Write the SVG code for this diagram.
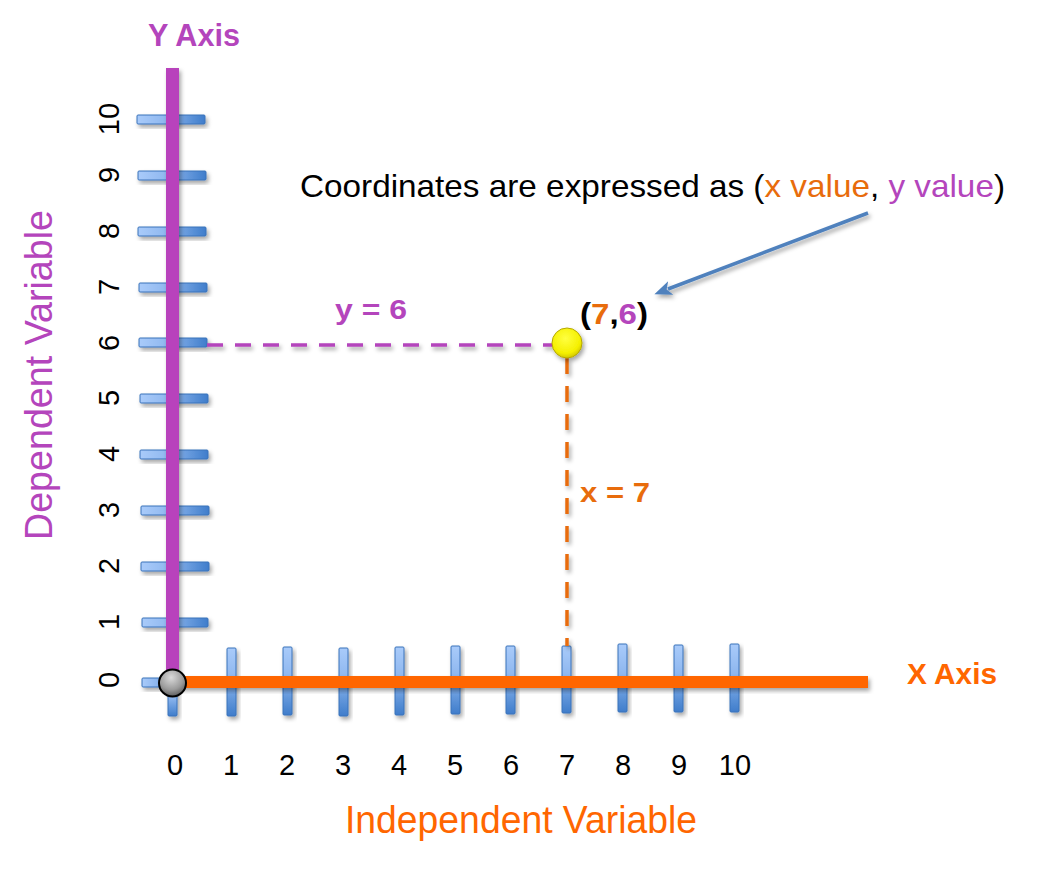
<svg xmlns="http://www.w3.org/2000/svg" width="1059" height="896" viewBox="0 0 1059 896">
<defs>
<linearGradient id="gh" x1="0" y1="0" x2="1" y2="0">
<stop offset="0" stop-color="#A9CBFA"/><stop offset="0.45" stop-color="#8DB6EE"/><stop offset="1" stop-color="#3F7DCB"/>
</linearGradient>
<linearGradient id="gv" x1="0" y1="0" x2="0" y2="1">
<stop offset="0" stop-color="#A9CBFA"/><stop offset="0.45" stop-color="#8DB6EE"/><stop offset="1" stop-color="#3F7DCB"/>
</linearGradient>
<radialGradient id="gray" cx="0.45" cy="0.3" r="0.75">
<stop offset="0" stop-color="#DADADA"/><stop offset="0.6" stop-color="#9A9A9A"/><stop offset="1" stop-color="#505050"/>
</radialGradient>
<radialGradient id="yel" cx="0.45" cy="0.35" r="0.7">
<stop offset="0" stop-color="#FFFF40"/><stop offset="0.7" stop-color="#F5F000"/><stop offset="1" stop-color="#C8BC00"/>
</radialGradient>
<filter id="sh" x="-50%" y="-50%" width="200%" height="200%">
<feDropShadow dx="2" dy="3" stdDeviation="2" flood-color="#000" flood-opacity="0.35"/>
</filter>
<filter id="shu" filterUnits="userSpaceOnUse" x="0" y="0" width="1059" height="896">
<feDropShadow dx="2" dy="3" stdDeviation="2" flood-color="#000" flood-opacity="0.35"/>
</filter>
<marker id="ah" viewBox="0 0 12 10" refX="2" refY="5" markerWidth="5" markerHeight="4.2" orient="auto-start-reverse" markerUnits="strokeWidth">
<path d="M12,5 L0,0 L3,5 L0,10 Z" fill="#4F81BD"/>
</marker>
<style>
.th{fill:url(#gh);stroke:#3A72BA;stroke-width:1;filter:url(#sh)}
.tv{fill:url(#gv);stroke:#3A72BA;stroke-width:1;filter:url(#sh)}
.num{font-family:"Liberation Sans",Arial,sans-serif;font-size:29px;fill:#000;text-anchor:middle}
.b{font-family:"Liberation Sans",Arial,sans-serif;font-weight:bold}
.pu{fill:#B445BC}
.or{fill:#E86C0C}
.orb{fill:#FF6600}
.dash{stroke-width:3.5;stroke-dasharray:16 12;filter:url(#shu)}
</style>
</defs>

<g id="y-ticks">
<rect class="th" x="137" y="115" width="68" height="9" rx="1"/>
<rect class="th" x="138" y="171" width="68" height="9" rx="1"/>
<rect class="th" x="138" y="227" width="68" height="9" rx="1"/>
<rect class="th" x="139" y="283" width="68" height="9" rx="1"/>
<rect class="th" x="139" y="338" width="68" height="9" rx="1"/>
<rect class="th" x="140" y="394" width="68" height="9" rx="1"/>
<rect class="th" x="140" y="450" width="68" height="9" rx="1"/>
<rect class="th" x="141" y="506" width="68" height="9" rx="1"/>
<rect class="th" x="141" y="562" width="68" height="9" rx="1"/>
<rect class="th" x="142" y="618" width="66" height="9" rx="1"/>
<rect class="th" x="142" y="678" width="32" height="9" rx="1"/>
</g>

<g id="x-ticks">
<rect class="tv" x="168" y="683" width="9" height="33" rx="1"/>
<rect class="tv" x="227" y="648" width="9" height="68" rx="1"/>
<rect class="tv" x="283" y="647" width="9" height="68" rx="1"/>
<rect class="tv" x="339" y="648" width="9" height="68" rx="1"/>
<rect class="tv" x="395" y="647" width="9" height="68" rx="1"/>
<rect class="tv" x="451" y="646" width="9" height="68" rx="1"/>
<rect class="tv" x="506" y="646" width="9" height="68" rx="1"/>
<rect class="tv" x="562" y="646" width="9" height="67" rx="1"/>
<rect class="tv" x="618" y="644" width="9" height="68" rx="1"/>
<rect class="tv" x="674" y="645" width="9" height="67" rx="1"/>
<rect class="tv" x="730" y="644" width="9" height="68" rx="1"/>
</g>

<g id="axes">
<rect id="y-axis" x="166" y="68" width="13" height="616" fill="#B843BC" filter="url(#sh)"/>
<rect id="x-axis" x="173" y="676" width="695" height="12" fill="#FF6600" filter="url(#sh)"/>
</g>

<g id="connectors">
<line class="dash" x1="207" y1="345" x2="552" y2="345" stroke="#B445BC"/>
<line class="dash" x1="567" y1="358" x2="567" y2="646" stroke="#E86C0C"/>
<line x1="868" y1="213" x2="668" y2="289" stroke="#4F81BD" stroke-width="3.5" marker-end="url(#ah)" filter="url(#shu)"/>
</g>

<g id="origin">
<circle cx="172.5" cy="683" r="13.5" fill="url(#gray)" stroke="#000" stroke-width="2"/>
</g>

<g id="point">
<circle cx="567" cy="343" r="15" fill="url(#yel)" stroke="#B5A800" stroke-width="1" filter="url(#sh)"/>
<text x="580" y="324" class="b" font-size="29" textLength="68" lengthAdjust="spacingAndGlyphs"><tspan fill="#000">(</tspan><tspan class="or">7</tspan><tspan fill="#000">,</tspan><tspan class="pu">6</tspan><tspan fill="#000">)</tspan></text>
</g>

<g id="y-labels">
<text class="num" transform="translate(119,119) rotate(-90)">10</text>
<text class="num" transform="translate(119,175) rotate(-90)">9</text>
<text class="num" transform="translate(119,231) rotate(-90)">8</text>
<text class="num" transform="translate(119,287) rotate(-90)">7</text>
<text class="num" transform="translate(119,343) rotate(-90)">6</text>
<text class="num" transform="translate(119,398) rotate(-90)">5</text>
<text class="num" transform="translate(119,454) rotate(-90)">4</text>
<text class="num" transform="translate(119,510) rotate(-90)">3</text>
<text class="num" transform="translate(119,566) rotate(-90)">2</text>
<text class="num" transform="translate(119,622) rotate(-90)">1</text>
<text class="num" transform="translate(119,680) rotate(-90)">0</text>
</g>

<g id="x-labels">
<text class="num" x="175" y="775">0</text>
<text class="num" x="231" y="775">1</text>
<text class="num" x="287" y="775">2</text>
<text class="num" x="343" y="775">3</text>
<text class="num" x="399" y="775">4</text>
<text class="num" x="455" y="775">5</text>
<text class="num" x="511" y="775">6</text>
<text class="num" x="567" y="775">7</text>
<text class="num" x="623" y="775">8</text>
<text class="num" x="679" y="775">9</text>
<text class="num" x="735" y="775">10</text>
</g>

<g id="titles">
<text x="148" y="46" class="b pu" font-size="31" textLength="92" lengthAdjust="spacingAndGlyphs">Y Axis</text>
<text x="907" y="684" class="b orb" font-size="30" textLength="90" lengthAdjust="spacingAndGlyphs">X Axis</text>
<text x="335" y="319" class="b pu" font-size="27" textLength="72" lengthAdjust="spacingAndGlyphs">y = 6</text>
<text x="580" y="502" class="b or" font-size="27" textLength="70" lengthAdjust="spacingAndGlyphs">x = 7</text>
<text x="300" y="197" font-family="'Liberation Sans',Arial,sans-serif" font-size="32" textLength="705" lengthAdjust="spacingAndGlyphs"><tspan fill="#000">Coordinates are expressed as (</tspan><tspan class="or">x value</tspan><tspan fill="#000">, </tspan><tspan class="pu">y value</tspan><tspan fill="#000">)</tspan></text>
<text x="345" y="833" font-family="'Liberation Sans',Arial,sans-serif" font-size="38" fill="#FF6600" textLength="352" lengthAdjust="spacingAndGlyphs">Independent Variable</text>
<text transform="translate(52,540) rotate(-90)" font-family="'Liberation Sans',Arial,sans-serif" font-size="38" fill="#B445BC" textLength="330" lengthAdjust="spacingAndGlyphs">Dependent Variable</text>
</g>
</svg>
